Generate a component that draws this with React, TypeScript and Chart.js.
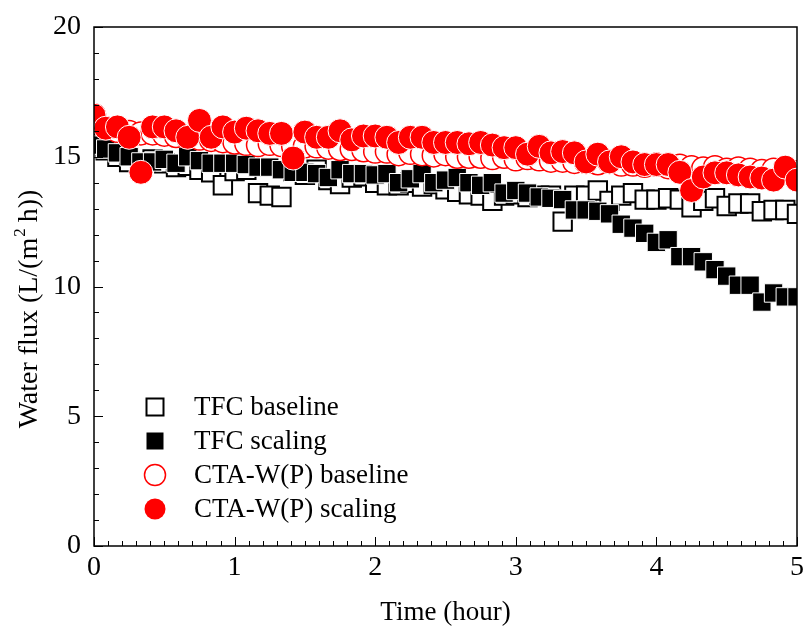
import { useEffect, useRef } from 'react';
import { Chart, registerables } from 'chart.js';

Chart.register(...registerables);

const FONT = '"Liberation Serif", "Times New Roman", Times, serif';

const minutes = [
  0, 5, 10, 15, 20, 25, 30, 35, 40, 45, 50, 55, 60, 65, 70, 75, 80, 85, 90, 95,
  100, 105, 110, 115, 120, 125, 130, 135, 140, 145, 150, 155, 160, 165, 170, 175,
  180, 185, 190, 195, 200, 205, 210, 215, 220, 225, 230, 235, 240, 245, 250, 255,
  260, 265, 270, 275, 280, 285, 290, 295, 300,
];

const tfcBaseline = [
  15.5, 15.25, 15.0, 14.8, 14.6, 14.9, 14.75, 14.6, 14.65, 14.5,
  14.4, 13.9, 14.45, 14.5, 13.6, 13.5, 13.45, 14.45, 14.3, 14.5,
  14.1, 13.95, 14.2, 14.25, 14.0, 13.9, 13.9, 14.0, 13.85, 13.95,
  13.75, 13.65, 13.55, 13.5, 13.3, 13.5, 13.55, 13.45, 13.5, 13.5,
  12.5, 13.5, 13.5, 13.7, 13.3, 13.5, 13.6, 13.35, 13.35, 13.4,
  13.35, 13.05, 13.3, 13.4, 13.1, 13.2, 13.2, 12.9, 12.95, 12.95,
  12.8,
];

const tfcScaling = [
  15.45, 15.3, 15.15, 15.0, 14.8, 14.8, 14.9, 14.75, 15.0, 14.85,
  14.75, 14.75, 14.75, 14.7, 14.6, 14.6, 14.5, 14.4, 14.4, 14.35,
  14.2, 14.5, 14.35, 14.35, 14.3, 14.35, 14.0, 14.15, 14.35, 14.0,
  14.1, 14.2, 14.0, 13.9, 14.0, 13.6, 13.7, 13.6, 13.45, 13.4,
  13.35, 12.95, 12.95, 12.9, 12.8, 12.4, 12.25, 12.05, 11.7, 11.8,
  11.15, 11.15, 10.95, 10.65, 10.4, 10.05, 10.05, 9.4, 9.75, 9.6,
  9.6,
];

const ctaBaseline = [
  16.6, 16.1, 16.0, 15.95, 15.9, 15.9, 15.85, 15.8, 15.75, 15.7,
  15.65, 15.6, 15.55, 15.5, 15.45, 15.5, 15.45, 15.4, 15.4, 15.4,
  15.35, 15.3, 15.3, 15.25, 15.2, 15.2, 15.1, 15.15, 15.1, 15.05,
  15.1, 15.0, 15.0, 15.0, 14.95, 15.0, 14.9, 14.95, 14.9, 14.85,
  14.85, 14.8, 14.8, 14.75, 14.8, 14.7, 14.7, 14.65, 14.7, 14.6,
  14.65, 14.6, 14.55, 14.6, 14.5, 14.55, 14.5, 14.45, 14.5, 14.45,
  14.4,
];

const ctaScaling = [
  16.6, 16.1, 16.15, 15.75, 14.4, 16.15, 16.15, 16.0, 15.75, 16.4,
  15.75, 16.15, 15.95, 16.1, 16.0, 15.9, 15.9, 14.95, 15.95, 15.75,
  15.75, 16.0, 15.65, 15.8, 15.8, 15.75, 15.55, 15.75, 15.75, 15.55,
  15.55, 15.55, 15.5, 15.55, 15.45, 15.35, 15.35, 15.1, 15.4, 15.15,
  15.2, 15.15, 14.8, 15.1, 14.8, 15.0, 14.8, 14.7, 14.7, 14.7,
  14.4, 13.7, 14.22, 14.38, 14.38, 14.3, 14.22, 14.18, 14.1, 14.6,
  14.1,
];

const seriesLabels = ['TFC baseline', 'TFC scaling', 'CTA-W(P) baseline', 'CTA-W(P) scaling'];
const xTickValues = [0, 1, 2, 3, 4, 5];
const yTickValues = [0, 5, 10, 15, 20];
const yTitleParts = ['Water flux (L/(m', '2', ' h))'];

const RED = '#ff0000';

function drawMarker(ctx: CanvasRenderingContext2D, kind: number, x: number, y: number) {
  ctx.save();
  if (kind === 0) {
    ctx.fillStyle = '#fff';
    ctx.strokeStyle = '#000';
    ctx.lineWidth = 2;
    ctx.fillRect(x - 8.5, y - 8.5, 17, 17);
    ctx.strokeRect(x - 8.5, y - 8.5, 17, 17);
  } else if (kind === 1) {
    ctx.fillStyle = '#000';
    ctx.fillRect(x - 8.5, y - 8.5, 17, 17);
  } else if (kind === 2) {
    ctx.fillStyle = '#fff';
    ctx.strokeStyle = RED;
    ctx.lineWidth = 1.5;
    ctx.beginPath();
    ctx.arc(x, y, 10.5, 0, Math.PI * 2);
    ctx.fill();
    ctx.stroke();
  } else {
    ctx.fillStyle = RED;
    ctx.beginPath();
    ctx.arc(x, y, 10.5, 0, Math.PI * 2);
    ctx.fill();
  }
  ctx.restore();
}

const framePlugin = {
  id: 'frameTicksLegend',
  afterDraw(chart: any) {
    const { ctx, chartArea } = chart;
    const { left, right, top, bottom } = chartArea;
    const xs = chart.scales.x;
    const ys = chart.scales.y;
    ctx.save();
    ctx.strokeStyle = '#000';
    ctx.lineWidth = 1.5;
    ctx.strokeRect(left, top, right - left, bottom - top);
    ctx.lineWidth = 1;
    ctx.beginPath();
    for (let v = 0; v <= 20; v += 1) {
      const py = Math.round(ys.getPixelForValue(v)) + 0.5;
      const len = v % 5 === 0 ? 9 : 5;
      ctx.moveTo(left, py);
      ctx.lineTo(left + len, py);
    }
    for (let k = 0; k <= 50; k += 1) {
      const px = Math.round(xs.getPixelForValue(k / 10)) + 0.5;
      const len = k % 10 === 0 ? 9 : 5;
      ctx.moveTo(px, bottom);
      ctx.lineTo(px, bottom - len);
    }
    ctx.stroke();

    // y axis title with superscript
    ctx.save();
    ctx.fillStyle = '#000';
    ctx.textBaseline = 'middle';
    ctx.textAlign = 'left';
    const mainFont = `28px ${FONT}`;
    const supFont = `17px ${FONT}`;
    ctx.font = mainFont;
    const w0 = ctx.measureText(yTitleParts[0]).width;
    const w2 = ctx.measureText(yTitleParts[2]).width;
    ctx.font = supFont;
    const w1 = ctx.measureText(yTitleParts[1]).width;
    const total = w0 + w1 + w2;
    ctx.translate(30, 309);
    ctx.rotate(-Math.PI / 2);
    let cx = -total / 2;
    ctx.font = mainFont;
    ctx.fillText(yTitleParts[0], cx, 0);
    cx += w0;
    ctx.font = supFont;
    ctx.fillText(yTitleParts[1], cx + 1, -9);
    cx += w1;
    ctx.font = mainFont;
    ctx.fillText(yTitleParts[2], cx, 0);
    ctx.restore();

    // legend
    const markerX = left + 61;
    const textX = left + 100;
    const firstY = bottom - 139;
    const step = 34;
    ctx.font = `27px ${FONT}`;
    ctx.fillStyle = '#000';
    ctx.textBaseline = 'middle';
    ctx.textAlign = 'left';
    chart.data.datasets.forEach((ds: any, i: number) => {
      const y = firstY + i * step;
      drawMarker(ctx, i, markerX, y);
      ctx.fillStyle = '#000';
      ctx.fillText(ds.label, textX, y + 1);
    });
    ctx.restore();
  },
};

export default function App() {
  const ref = useRef<HTMLCanvasElement>(null);
  useEffect(() => {
    const hours = minutes.map((m) => m / 60);
    const mk = (vals: number[]) => hours.map((x, i) => ({ x, y: vals[i] }));
    const chart = new Chart(ref.current as HTMLCanvasElement, {
      type: 'scatter',
      data: {
        datasets: [
          {
            label: seriesLabels[0],
            data: mk(tfcBaseline),
            pointStyle: 'rect',
            pointRadius: 13,
            backgroundColor: '#fff',
            borderColor: '#000',
            borderWidth: 2,
            order: 4,
            clip: 0,
          },
          {
            label: seriesLabels[1],
            data: mk(tfcScaling),
            pointStyle: 'rect',
            pointRadius: 13,
            backgroundColor: '#000',
            borderColor: '#ffffff',
            borderWidth: 1,
            order: 3,
            clip: 0,
          },
          {
            label: seriesLabels[2],
            data: mk(ctaBaseline),
            pointStyle: 'circle',
            pointRadius: 11.5,
            backgroundColor: '#fff',
            borderColor: RED,
            borderWidth: 1.5,
            order: 2,
            clip: 0,
          },
          {
            label: seriesLabels[3],
            data: mk(ctaScaling),
            pointStyle: 'circle',
            pointRadius: 12,
            backgroundColor: RED,
            borderColor: '#ffffff',
            borderWidth: 1,
            order: 1,
            clip: 0,
          },
        ] as any,
      },
      options: {
        animation: false,
        responsive: false,
        maintainAspectRatio: false,
        events: [],
        layout: { autoPadding: false, padding: { left: 0, right: 6, top: 27, bottom: 0 } },
        plugins: { legend: { display: false }, tooltip: { enabled: false } },
        scales: {
          x: {
            type: 'linear',
            min: 0,
            max: 5,
            afterBuildTicks: (s: any) => {
              s.ticks = xTickValues.map((v) => ({ value: v }));
            },
            afterFit: (s: any) => {
              s.paddingLeft = 0;
              s.paddingRight = 0;
              s.height = 81;
            },
            ticks: {
              font: { family: FONT, size: 28 },
              color: '#000',
              padding: 5,
              maxRotation: 0,
              autoSkip: false,
            },
            grid: { display: false, drawTicks: false },
            border: { display: false },
            title: {
              display: true,
              text: 'Time (hour)',
              font: { family: FONT, size: 27 },
              color: '#000',
              padding: { top: 0, bottom: -2 },
            },
          },
          y: {
            type: 'linear',
            min: 0,
            max: 20,
            afterBuildTicks: (s: any) => {
              s.ticks = yTickValues.map((v) => ({ value: v }));
            },
            afterFit: (s: any) => {
              s.paddingTop = 0;
              s.paddingBottom = 0;
              s.width = 94;
            },
            ticks: {
              font: { family: FONT, size: 28 },
              color: '#000',
              padding: 13,
              autoSkip: false,
            },
            grid: { display: false, drawTicks: false },
            border: { display: false },
            title: { display: false },
          },
        },
      } as any,
      plugins: [framePlugin],
    });
    return () => chart.destroy();
  }, []);

  return (
    <div style={{ position: 'fixed', left: 0, top: 0, width: 803, height: 627, background: '#fff' }}>
      <canvas ref={ref} width={803} height={627} style={{ width: 803, height: 627 }} />
    </div>
  );
}
